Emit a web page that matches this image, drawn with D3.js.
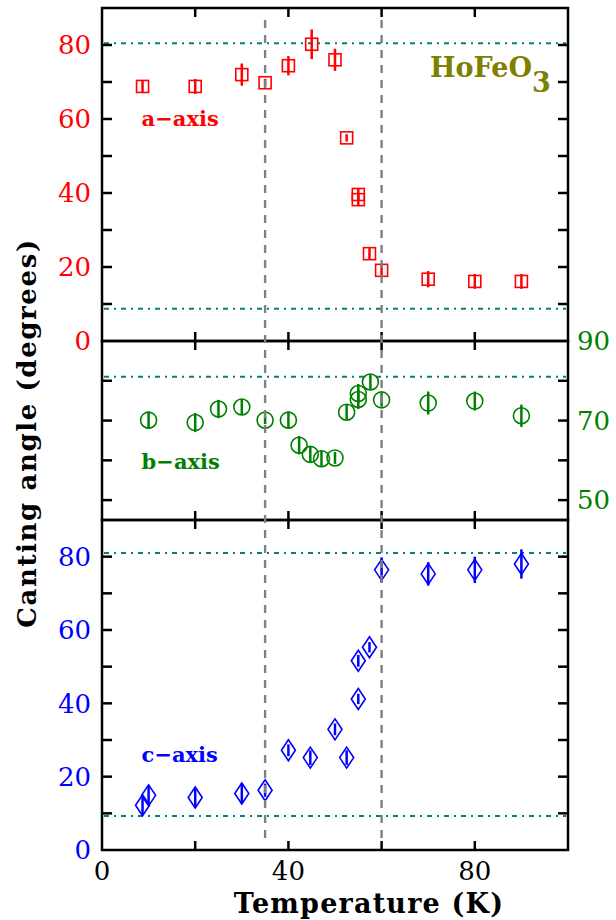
<!DOCTYPE html>
<html>
<head>
<meta charset="utf-8">
<script src="https://cdn.jsdelivr.net/npm/d3@7"></script>
<style>
  body { margin: 0; background: #fff; }
  svg { display: block; }
</style>
</head>
<body>
<div id="chart"></div>
<script>
// a-axis (top panel)
const tempA  = [8.7, 20, 30, 35, 40, 45, 50, 52.5, 55, 55, 57.4, 60, 70, 80, 90];
const angleA = [68.8, 68.8, 72, 69.8, 74.4, 80.2, 76, 54.9, 39.6, 38.2, 23.6, 19.1, 16.7, 16.1, 16.1];
const errA   = [1.5, 2, 3, 1, 2.6, 4, 3, 1, 1.5, 1.5, 1.5, 1.5, 2.2, 2, 2];
// b-axis (middle panel)
const tempB  = [10, 20, 25, 30, 35, 40, 42.3, 44.7, 47.1, 50, 52.5, 55, 55, 57.6, 60, 70, 80, 90];
const angleB = [70.1, 69.5, 72.9, 73.4, 70.1, 70.1, 63.8, 61.5, 60.4, 60.6, 72.1, 75.3, 76.8, 79.7, 75.2, 74.4, 74.9, 71.2];
const errB   = [2.2, 2.4, 2.3, 2, 1, 2.2, 2.3, 2, 2, 1.5, 1.9, 2.4, 2.4, 2, 1.7, 2.9, 2.4, 2.8];
// c-axis (bottom panel)
const tempC  = [8.7, 10, 20, 30, 35, 40, 44.7, 50, 52.5, 55, 55, 57.4, 60, 70, 80, 90];
const angleC = [12.2, 14.9, 14.3, 15.4, 16.3, 27.2, 25.2, 32.9, 25.2, 41.2, 51.6, 55.3, 76.4, 75.3, 76.4, 78];
const errC   = [2.7, 2.7, 2.5, 2.8, 1.8, 1.6, 2, 1.6, 2, 1.4, 1.6, 1.4, 3.4, 3.2, 3.6, 4];

const xTicks = [20, 40, 60, 80];
const xTickLabels = [0, 40, 80];
const transitions = [35, 60];

const W = 616, H = 920;
const svg = d3.select('#chart').append('svg').attr('width', W).attr('height', H);

const x = d3.scaleLinear().domain([0, 100]).range([102, 568]);

const panels = [
  { name: 'a-axis', color: '#ff0000', shape: 'square', t: tempA, v: angleA, e: errA,
    y: d3.scaleLinear().domain([0, 90]).range([341, 8]),
    yTicks: d3.range(10, 90, 10), leftLabels: [0, 20, 40, 60, 80], rightLabels: [],
    refs: [80.5, 8.7], labelAt: [8.5, 58.1] },
  { name: 'b-axis', color: '#008000', shape: 'circle', t: tempB, v: angleB, e: errB,
    y: d3.scaleLinear().domain([45, 90]).range([520, 341]),
    yTicks: [50, 60, 70, 80], leftLabels: [], rightLabels: [50, 70, 90],
    refs: [81], labelAt: [8.5, 57.8] },
  { name: 'c-axis', color: '#0000ff', shape: 'diamond', t: tempC, v: angleC, e: errC,
    y: d3.scaleLinear().domain([0, 90]).range([850, 520]),
    yTicks: d3.range(10, 90, 10), leftLabels: [0, 20, 40, 60, 80], rightLabels: [],
    refs: [81, 9.3], labelAt: [8.5, 24.1] }
];

const numFont = 'DejaVu Serif';
const boldFont = 'DejaVu Serif';

panels.forEach(p => {
  const g = svg.append('g');
  const [y0, y1] = p.y.range();
  const [x0, x1] = x.range();

  // reference dash-dot lines
  g.selectAll('line.ref').data(p.refs).enter().append('line')
    .attr('x1', x0 + 2).attr('x2', x1 - 2)
    .attr('y1', d => p.y(d)).attr('y2', d => p.y(d))
    .attr('stroke', '#008080').attr('stroke-width', 2)
    .attr('stroke-dasharray', '5,5,2,5');

  // inward ticks
  const tk = g.append('g').attr('stroke', '#000').attr('stroke-width', 2.5);
  xTicks.forEach(t => {
    tk.append('line').attr('x1', x(t)).attr('x2', x(t)).attr('y1', y1).attr('y2', y1 + 9);
    tk.append('line').attr('x1', x(t)).attr('x2', x(t)).attr('y1', y0).attr('y2', y0 - 9);
  });
  p.yTicks.forEach(v => {
    tk.append('line').attr('x1', x0).attr('x2', x0 + 10).attr('y1', p.y(v)).attr('y2', p.y(v));
    tk.append('line').attr('x1', x1).attr('x2', x1 - 10).attr('y1', p.y(v)).attr('y2', p.y(v));
  });

  // tick labels
  g.selectAll('text.ll').data(p.leftLabels).enter().append('text')
    .attr('x', 91).attr('y', d => p.y(d)).attr('dy', '0.36em')
    .attr('text-anchor', 'end').attr('fill', p.color)
    .style('font-family', numFont).style('font-size', '26px')
    .text(d => d);
  g.selectAll('text.rl').data(p.rightLabels).enter().append('text')
    .attr('x', 577).attr('y', d => p.y(d)).attr('dy', '0.36em')
    .attr('text-anchor', 'start').attr('fill', p.color)
    .style('font-family', numFont).style('font-size', '26px')
    .text(d => d);

  // markers
  const pts = p.t.map((t, i) => ({ t: t, v: p.v[i], e: p.e[i] }));
  const m = g.selectAll('g.pt').data(pts).enter().append('g')
    .attr('transform', d => 'translate(' + x(d.t) + ',' + p.y(d.v) + ')');
  if (p.shape === 'square') {
    m.append('rect').attr('x', -6).attr('y', -6).attr('width', 12).attr('height', 12)
      .attr('fill', 'none').attr('stroke', p.color).attr('stroke-width', 1.6);
  } else if (p.shape === 'circle') {
    m.append('circle').attr('r', 8)
      .attr('fill', 'none').attr('stroke', p.color).attr('stroke-width', 1.6);
  } else {
    m.append('path').attr('d', 'M0,-10.5L7,0L0,10.5L-7,0Z')
      .attr('fill', 'none').attr('stroke', p.color).attr('stroke-width', 1.6);
  }
  m.append('line')
    .attr('x1', 0).attr('x2', 0)
    .attr('y1', d => p.y(d.v + d.e) - p.y(d.v))
    .attr('y2', d => p.y(d.v - d.e) - p.y(d.v))
    .attr('stroke', p.color).attr('stroke-width', 2.5);

  // panel label
  g.append('text')
    .attr('x', x(p.labelAt[0])).attr('y', p.y(p.labelAt[1]))
    .attr('fill', p.color)
    .style('font-family', boldFont).style('font-weight', 'bold').style('font-size', '21px')
    .text(p.name.replace('-', '\u2212'));

  // frame
  g.append('rect').attr('x', x0).attr('y', y1).attr('width', x1 - x0).attr('height', y0 - y1)
    .attr('fill', 'none').attr('stroke', '#000').attr('stroke-width', 2.5);
});

// transition temperatures (span all panels)
svg.selectAll('line.tr').data(transitions).enter().append('line')
  .attr('x1', d => x(d)).attr('x2', d => x(d))
  .attr('y1', 20).attr('y2', 838)
  .attr('stroke', '#808080').attr('stroke-width', 2.4)
  .attr('stroke-dasharray', '8,7');

// compound label
const comp = svg.append('text')
  .attr('x', x(70.4)).attr('y', panels[0].y(71.4))
  .attr('fill', '#808000')
  .style('font-family', boldFont).style('font-weight', 'bold').style('font-size', '27px');
comp.append('tspan').text('HoFeO');
comp.append('tspan').attr('dy', 15).text('3');

// x tick labels
svg.selectAll('text.xl').data(xTickLabels).enter().append('text')
  .attr('x', d => x(d)).attr('y', 880)
  .attr('text-anchor', 'middle').attr('fill', '#000')
  .style('font-family', numFont).style('font-size', '26px')
  .text(d => d);

// axis titles
svg.append('text')
  .attr('x', 369).attr('y', 913).attr('text-anchor', 'middle')
  .style('font-family', boldFont).style('font-weight', 'bold').style('font-size', '27px')
  .style('letter-spacing', '1.2px')
  .text('Temperature (K)');
svg.append('text')
  .attr('transform', 'translate(36,433) rotate(-90)').attr('text-anchor', 'middle')
  .style('font-family', boldFont).style('font-weight', 'bold').style('font-size', '26px')
  .style('letter-spacing', '1.6px')
  .text('Canting angle (degrees)');
</script>
</body>
</html>
